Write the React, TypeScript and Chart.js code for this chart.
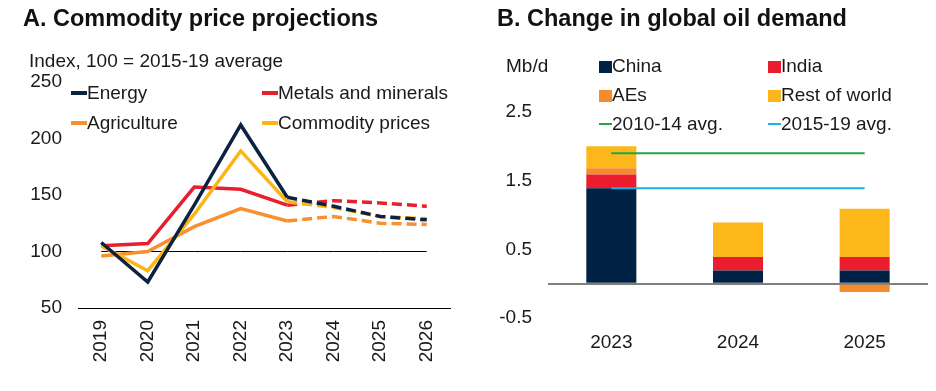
import React, { useEffect, useRef } from "react";
import { Chart, registerables } from "chart.js";

Chart.register(...registerables);

// ---------- Panel A data ----------
const years = ["2019", "2020", "2021", "2022", "2023", "2024", "2025", "2026"];
const energy = [108, 73, 141, 212, 148, 140, 131, 128];
const metals = [105, 107, 157, 155, 141, 145, 143, 140];
const agriculture = [96, 100, 122, 138, 127, 131, 125, 124];
const commodityPrices = [105, 83, 133, 189, 144, 139, 131, 129];
const baseline = [100, 100, 100, 100, 100, 100, 100, 100];
const leftTicks = [50, 100, 150, 200, 250];
const forecastStartIndex = 4;

// ---------- Panel B data ----------
const demandYears = ["2023", "2024", "2025"];
const china = [1.39, 0.19, 0.19];
const india = [0.2, 0.2, 0.2];
const aes = [0.09, 0, -0.12];
const restOfWorld = [0.32, 0.5, 0.7];
const avg201014 = [1.9, 1.9, 1.9];
const avg201519 = [1.39, 1.39, 1.39];
const rightTicks = [-0.5, 0, 0.5, 1.5, 2.5];

const FONT = "'Liberation Sans', Arial, Helvetica, sans-serif";
const TEXT = "#1a1a1a";
const FS = 19;

const C = {
  navy: "#0b2341",
  red: "#e8202e",
  orange: "#f7902f",
  gold: "#fdb515",
  chinaNavy: "#002245",
  indiaRed: "#eb1c2d",
  aesOrange: "#f68b2c",
  rowYellow: "#fdb71a",
  green: "#21a64c",
  blue: "#1bb0e6",
};

function LeftChart() {
  const ref = useRef<HTMLCanvasElement | null>(null);
  useEffect(() => {
    if (!ref.current) return;
    const dash = (color: string) => ({
      borderColor: (ctx: any) => color,
      borderDash: (ctx: any) => (ctx.p0DataIndex >= forecastStartIndex ? [10, 5] : undefined),
    });
    const mk = (label: string, data: number[], color: string, order: number) => ({
      label,
      data,
      borderColor: color,
      backgroundColor: color,
      borderWidth: 3.5,
      pointRadius: 0,
      tension: 0,
      order,
      segment: dash(color),
      borderJoinStyle: "miter" as const,
    });
    const chart = new Chart(ref.current, {
      type: "line",
      data: {
        labels: years,
        datasets: [
          mk("Energy", energy, C.navy, 1),
          mk("Metals and minerals", metals, C.red, 3),
          mk("Agriculture", agriculture, C.orange, 4),
          mk("Commodity prices", commodityPrices, C.gold, 2),
          {
            label: "base",
            data: baseline,
            borderColor: "#000",
            borderWidth: 1,
            pointRadius: 0,
            order: 10,
          },
        ],
      },
      options: {
        animation: false,
        responsive: false,
        devicePixelRatio: 1,
        layout: { padding: { top: 82, right: 18, left: 0, bottom: 0 } },
        plugins: { legend: { display: false }, tooltip: { enabled: false } },
        scales: {
          x: {
            offset: true,
            grid: { display: false, drawTicks: false },
            border: { display: true, color: "#000", width: 1 },
            ticks: {
              minRotation: 90,
              maxRotation: 90,
              padding: 12,
              color: TEXT,
              font: { family: FONT, size: FS },
            },
            afterFit: (s: any) => {
              s.height = 83;
            },
          },
          y: {
            min: 50,
            max: 250,
            grid: { display: false, drawTicks: false },
            border: { display: false },
            afterBuildTicks: (s: any) => {
              s.ticks = leftTicks.map((v) => ({ value: v }));
            },
            ticks: {
              padding: 16,
              color: TEXT,
              font: { family: FONT, size: FS },
            },
            afterFit: (s: any) => {
              s.width = 78;
            },
          },
        },
      },
    });
    return () => chart.destroy();
  }, []);
  return <canvas ref={ref} width={468} height={391} style={{ position: "absolute", left: 0, top: 0 }} />;
}

function RightChart() {
  const ref = useRef<HTMLCanvasElement | null>(null);
  useEffect(() => {
    if (!ref.current) return;
    const bar = (label: string, data: number[], color: string) => ({
      type: "bar" as const,
      label,
      data,
      backgroundColor: color,
      borderWidth: 0,
      stack: "s",
      barPercentage: 0.395,
      categoryPercentage: 1,
      order: 2,
    });
    const line = (label: string, data: number[], color: string, stack: string) => ({
      type: "line" as const,
      label,
      data,
      borderColor: color,
      borderWidth: 2,
      pointRadius: 0,
      stack,
      order: 1,
    });
    const chart = new Chart(ref.current, {
      type: "bar",
      data: {
        labels: demandYears,
        datasets: [
          bar("China", china, C.chinaNavy),
          bar("India", india, C.indiaRed),
          bar("AEs", aes, C.aesOrange),
          bar("Rest of world", restOfWorld, C.rowYellow),
          line("2010-14 avg.", avg201014, C.green, "a1") as any,
          line("2015-19 avg.", avg201519, C.blue, "a2") as any,
        ],
      },
      options: {
        animation: false,
        responsive: false,
        devicePixelRatio: 1,
        layout: { padding: { top: 112, right: 8, left: 0, bottom: 0 } },
        plugins: { legend: { display: false }, tooltip: { enabled: false } },
        scales: {
          x: {
            stacked: true,
            offset: true,
            grid: { display: false, drawTicks: false },
            border: { display: false },
            ticks: {
              padding: 13,
              color: TEXT,
              font: { family: FONT, size: FS },
            },
            afterFit: (s: any) => {
              s.height = 73;
            },
          },
          y: {
            stacked: true,
            min: -0.5,
            max: 2.5,
            border: { display: false },
            grid: {
              drawTicks: false,
              lineWidth: 2,
              color: (ctx: any) => (ctx.tick && ctx.tick.value === 0 ? "#7f7f7f" : "rgba(0,0,0,0)"),
            },
            afterBuildTicks: (s: any) => {
              s.ticks = rightTicks.map((v) => ({ value: v }));
            },
            ticks: {
              padding: 16,
              color: TEXT,
              font: { family: FONT, size: FS },
              callback: (v: any) => (Number(v) === 0 ? "" : Number(v).toFixed(1)),
            },
            afterFit: (s: any) => {
              s.width = 80;
            },
          },
        },
      },
    });
    return () => chart.destroy();
  }, []);
  return <canvas ref={ref} width={468} height={391} style={{ position: "absolute", left: 468, top: 0 }} />;
}

const txt: React.CSSProperties = {
  position: "absolute",
  fontFamily: FONT,
  fontSize: FS,
  color: TEXT,
  whiteSpace: "nowrap",
  lineHeight: "20px",
};

function LineKey({ x, y, color, label, w = 16, h = 4 }: any) {
  return (
    <div style={{ ...txt, left: x, top: y - 10, display: "flex", alignItems: "center" }}>
      <span style={{ display: "inline-block", width: w, height: h, background: color }} />
      <span>{label}</span>
    </div>
  );
}

function BoxKey({ x, y, color, label }: any) {
  return (
    <div style={{ ...txt, left: x, top: y - 10, display: "flex", alignItems: "center" }}>
      <span style={{ display: "inline-block", width: 13, height: 12, background: color, marginTop: 1 }} />
      <span>{label}</span>
    </div>
  );
}

export default function App() {
  return (
    <div style={{ position: "absolute", left: 0, top: 0, width: 936, height: 391, background: "#fff", overflow: "hidden" }}>
      <LeftChart />
      <RightChart />
      <div style={{ ...txt, left: 23, top: 4, fontSize: 23.5, fontWeight: "bold", lineHeight: "28px", color: "#111" }}>
        A. Commodity price projections
      </div>
      <div style={{ ...txt, left: 497, top: 4, fontSize: 23.5, fontWeight: "bold", lineHeight: "28px", color: "#111" }}>
        B. Change in global oil demand
      </div>
      <div style={{ ...txt, left: 29, top: 51 }}>Index, 100 = 2015-19 average</div>
      <LineKey x={71} y={93} color={C.navy} label="Energy" />
      <LineKey x={262} y={93} color={C.red} label="Metals and minerals" />
      <LineKey x={71} y={123} color={C.orange} label="Agriculture" />
      <LineKey x={262} y={123} color={C.gold} label="Commodity prices" />

      <div style={{ ...txt, left: 506, top: 56 }}>Mb/d</div>
      <BoxKey x={599} y={66} color={C.chinaNavy} label="China" />
      <BoxKey x={768} y={66} color={C.indiaRed} label="India" />
      <BoxKey x={599} y={95} color={C.aesOrange} label="AEs" />
      <BoxKey x={768} y={95} color={C.rowYellow} label="Rest of world" />
      <LineKey x={599} y={124} color={C.green} label="2010-14 avg." w={13} h={2} />
      <LineKey x={768} y={124} color={C.blue} label="2015-19 avg." w={13} h={2} />
    </div>
  );
}
